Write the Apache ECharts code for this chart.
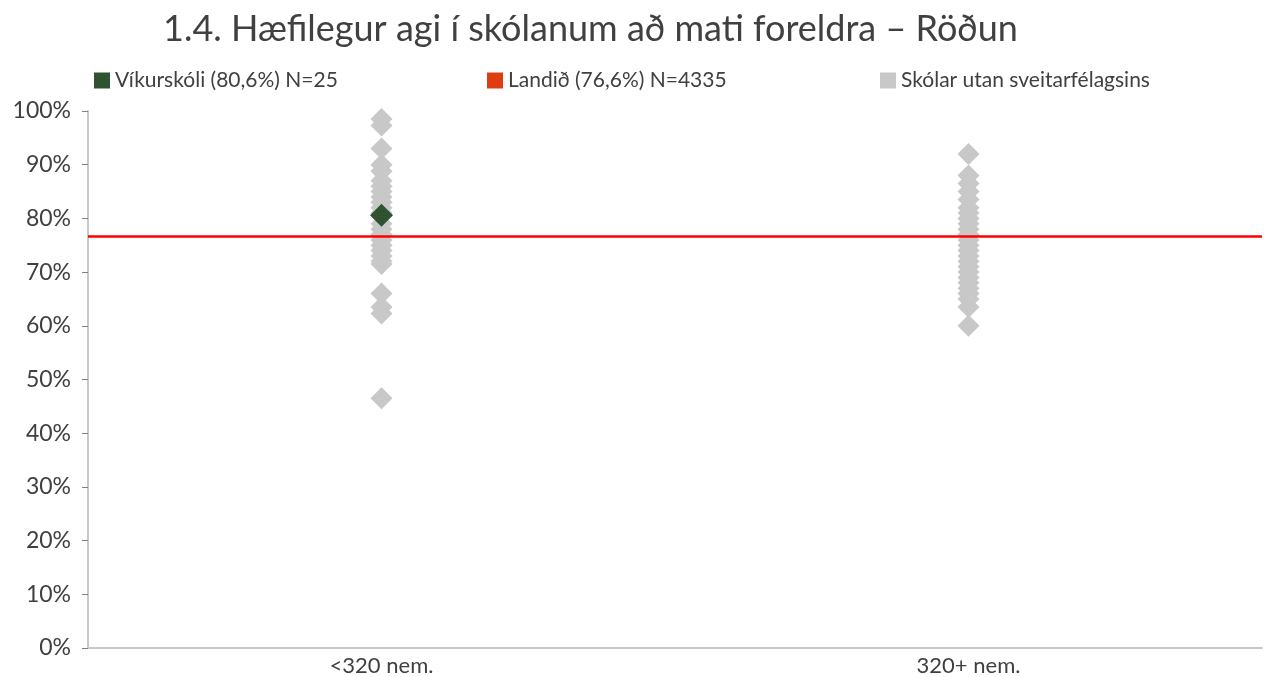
<!DOCTYPE html>
<html>
<head>
<meta charset="utf-8">
<script src="https://cdn.jsdelivr.net/npm/echarts@6/dist/echarts.min.js"></script>
<style>
html,body{margin:0;padding:0;background:#fff;}
#main{width:1277px;height:677px;}
</style>
</head>
<body>
<div id="main"></div>
<script>
var categories = ['<320 nem.', '320+ nem.'];
var yTicks = [0, 10, 20, 30, 40, 50, 60, 70, 80, 90, 100];
var smallSchools = [98.5, 97.3, 93, 90, 88.8, 87, 86, 85, 84, 83, 82, 81, 79, 78, 77, 76, 75, 74, 73, 72, 71.5, 66, 63.5, 62.3, 46.5];
var largeSchools = [92, 88, 86.5, 85, 83.5, 82, 81, 80, 79, 78, 77, 76, 75, 74, 73, 72, 71, 70, 69, 68, 67, 66, 65, 63.5, 60];
var localName = 'Víkurskóli (80,6%) N=25';
var localCategory = '<320 nem.';
var localValue = 80.6;
var nationalName = 'Landið (76,6%) N=4335';
var nationalValue = 76.6;
var otherName = 'Skólar utan sveitarfélagsins';

var otherData = [];
smallSchools.forEach(function (v) { otherData.push([categories[0], v]); });
largeSchools.forEach(function (v) { otherData.push([categories[1], v]); });

var chart = echarts.init(document.getElementById('main'));
var txt = '#404040';
var font = 'Lato, "Open Sans", sans-serif';
function legendAt(name, left) {
  return {
    data: [name], left: left, top: 65, icon: 'rect', itemWidth: 16, itemHeight: 16, itemGap: 8,
    textStyle: { color: txt, fontSize: 21, fontFamily: font }, selectedMode: false
  };
}
chart.setOption({
  animation: false,
  backgroundColor: '#fff',
  title: {
    text: '1.4. Hæfilegur agi í skólanum að mati foreldra – Röðun',
    left: 158, top: 6,
    textStyle: { color: txt, fontSize: 36, fontWeight: 'normal', fontFamily: font }
  },
  legend: [legendAt(localName, 89), legendAt(nationalName, 482), legendAt(otherName, 875)],
  grid: { left: 88, right: 15, top: 111, bottom: 29 },
  xAxis: {
    type: 'category', data: categories, boundaryGap: true,
    axisLine: { lineStyle: { color: '#c8c8c8', width: 2 } },
    axisTick: { show: false },
    axisLabel: { color: txt, fontSize: 22, fontFamily: font, margin: 7 },
    splitLine: { show: false }
  },
  yAxis: {
    type: 'value', min: yTicks[0], max: yTicks[yTicks.length - 1], interval: 10,
    axisLine: { show: true, lineStyle: { color: '#c8c8c8', width: 2 } },
    axisTick: { show: true, length: 6, lineStyle: { color: '#808080', width: 1 } },
    axisLabel: { color: txt, fontSize: 23, fontFamily: font, formatter: '{value}%', margin: 17 },
    splitLine: { show: false }
  },
  series: [
    {
      name: otherName, type: 'scatter', symbol: 'diamond', symbolSize: 22,
      itemStyle: { color: '#c8c8c8', opacity: 1 }, data: otherData, z: 2
    },
    {
      name: nationalName, type: 'scatter', data: [],
      itemStyle: { color: '#e03c12', opacity: 1 },
      markLine: {
        silent: true, symbol: ['none', 'none'], label: { show: false },
        lineStyle: { color: '#ff0000', width: 2.5, type: 'solid', opacity: 1 },
        data: [{ yAxis: nationalValue }]
      }, z: 3
    },
    {
      name: localName, type: 'scatter', symbol: 'diamond', symbolSize: 23,
      itemStyle: { color: '#2f5330', opacity: 1 }, data: [[localCategory, localValue]], z: 4
    }
  ]
});
</script>
</body>
</html>
